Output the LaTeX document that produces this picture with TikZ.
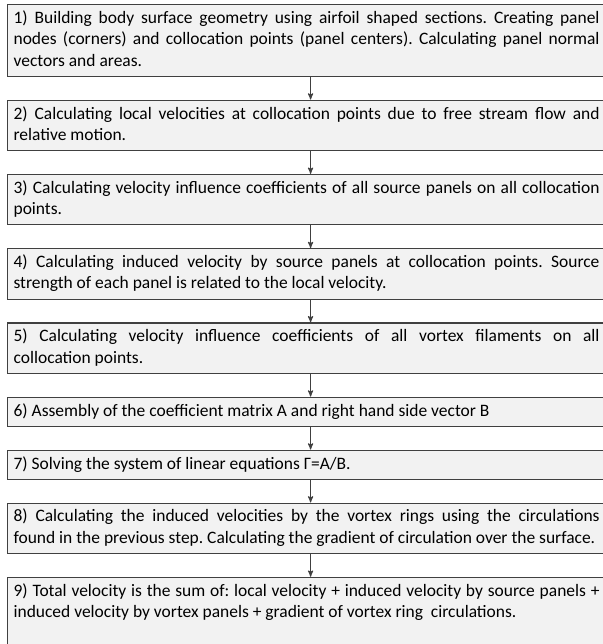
\documentclass[tikz,border=0pt]{standalone}
\usepackage{fontspec}
\setmainfont{Carlito}
\usetikzlibrary{positioning, arrows}
\hyphenpenalty=10000
\frenchspacing

\definecolor{boxfill}{RGB}{242,242,242}
\definecolor{boxline}{RGB}{64,64,64}

\begin{document}
\begin{tikzpicture}[
		->,
		>=stealth',
		node distance=17pt,
		stepbox/.style={draw=boxline, line width=0.9pt, fill=boxfill, rectangle,
			text width=439.5pt, align=justify, inner xsep=4.5pt, inner ysep=2.9pt,
			font=\fontsize{13.1}{16}\selectfont,
			execute at begin node=\strut, execute at end node=\strut},
		lastbox/.style={stepbox, execute at end node={\endgraf\vspace*{16pt}}},
		flow/.style={draw=boxline, line width=0.75pt}]

	\useasboundingbox (0,0) rectangle (452.25pt,-483pt);

	\node[stepbox, anchor=north west] (geometry) at (5.25pt,-3pt) {1) Building body surface geometry using airfoil shaped sections. Creating panel\linebreak nodes (corners) and collocation points (panel centers). Calculating panel normal\linebreak vectors and areas.};
	\node[stepbox, below=of geometry] (localvel) {2) Calculating local velocities at collocation points due to free stream flow and\linebreak relative motion.};
	\node[stepbox, below=of localvel] (sourcecoef) {3) Calculating velocity influence coefficients of all source panels on all collocation\linebreak points.};
	\node[stepbox, below=of sourcecoef] (sourcevel) {4) Calculating induced velocity by source panels at collocation points. Source\linebreak strength of each panel is related to the local velocity.};
	\node[stepbox, below=of sourcevel] (vortexcoef) {5) Calculating velocity influence coefficients of all vortex filaments on all\linebreak collocation points.};
	\node[stepbox, below=of vortexcoef] (assembly) {6) Assembly of the coefficient matrix A and right hand side vector B};
	\node[stepbox, below=of assembly] (solve) {7) Solving the system of linear equations Γ=A/B.};
	\node[stepbox, below=of solve] (vortexvel) {8) Calculating the induced velocities by the vortex rings using the circulations\linebreak found in the previous step. Calculating the gradient of circulation over the surface.};
	\node[lastbox, below=of vortexvel] (total) {9) Total velocity is the sum of: local velocity + induced velocity by source panels +\linebreak induced velocity by vortex panels + gradient of vortex ring\ \ circulations.};

	\draw[flow] ([xshift=3pt]geometry.south) -- ([xshift=3pt]localvel.north);
	\draw[flow] ([xshift=3pt]localvel.south) -- ([xshift=3pt]sourcecoef.north);
	\draw[flow] ([xshift=3pt]sourcecoef.south) -- ([xshift=3pt]sourcevel.north);
	\draw[flow] ([xshift=3pt]sourcevel.south) -- ([xshift=3pt]vortexcoef.north);
	\draw[flow] ([xshift=3pt]vortexcoef.south) -- ([xshift=3pt]assembly.north);
	\draw[flow] ([xshift=3pt]assembly.south) -- ([xshift=3pt]solve.north);
	\draw[flow] ([xshift=3pt]solve.south) -- ([xshift=3pt]vortexvel.north);
	\draw[flow] ([xshift=3pt]vortexvel.south) -- ([xshift=3pt]total.north);
\end{tikzpicture}
\end{document}
